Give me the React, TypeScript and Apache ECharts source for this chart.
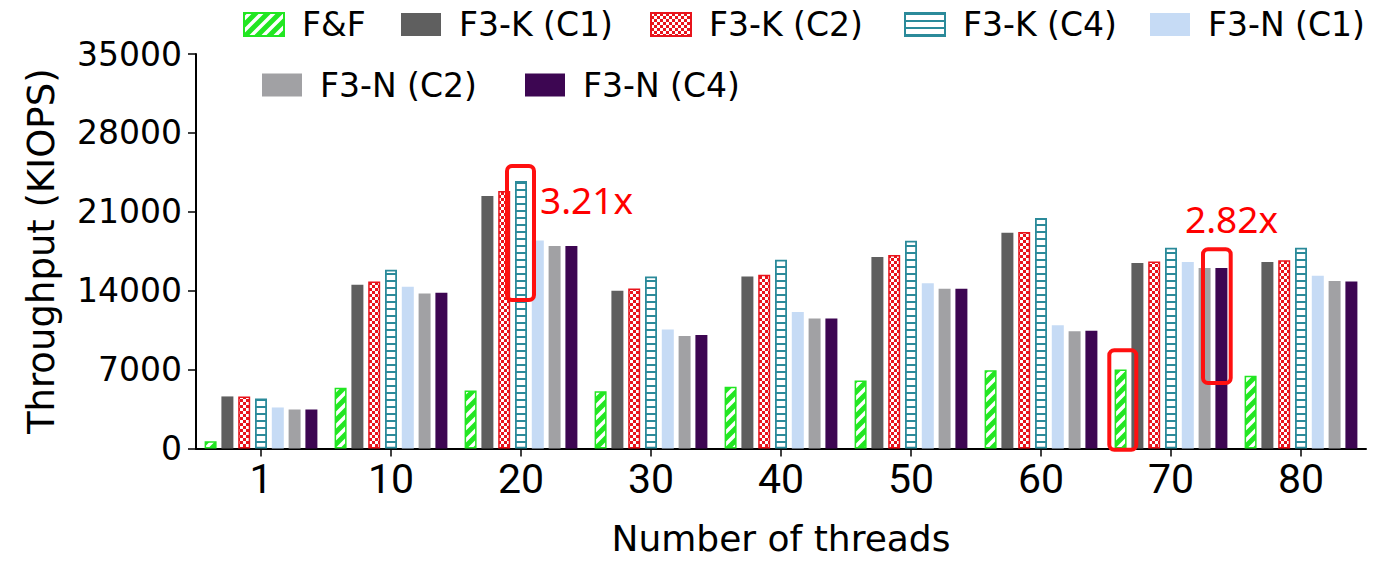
import React, { useEffect, useRef } from "react";
import * as echarts from "echarts";

// ---- data ----
const categories = ["1", "10", "20", "30", "40", "50", "60", "70", "80"];
const seriesNames = ["F&F", "F3-K (C1)", "F3-K (C2)", "F3-K (C4)", "F3-N (C1)", "F3-N (C2)", "F3-N (C4)"];
const ffValues = [650, 5390, 5150, 5090, 5480, 6040, 6950, 7010, 6450];
const k1Values = [4620, 14530, 22400, 14000, 15270, 16980, 19150, 16450, 16540];
const k2Values = [4620, 14820, 22840, 14200, 15410, 17160, 19200, 16600, 16710];
const k4Values = [4440, 15860, 23730, 15270, 16750, 18430, 20440, 17810, 17810];
const n1Values = [3640, 14350, 18460, 10560, 12100, 14670, 10940, 16540, 15330];
const n2Values = [3460, 13760, 17960, 9970, 11540, 14170, 10410, 16010, 14850];
const n4Values = [3460, 13820, 17960, 10060, 11540, 14170, 10440, 16010, 14820];
const yTicks = [0, 7000, 14000, 21000, 28000, 35000];
const annotations = ["3.21x", "2.82x"];

const GREEN = "#22e622";
const RED = "#e8141c";
const TEAL = "#2b8a9a";

function makeTile(w: number, h: number, draw: (ctx: CanvasRenderingContext2D) => void) {
  const c = document.createElement("canvas");
  c.width = w;
  c.height = h;
  const ctx = c.getContext("2d")!;
  draw(ctx);
  return { image: c.toDataURL(), repeat: "repeat", imageWidth: w, imageHeight: h } as any;
}

function buildOption() {
  const stripes = makeTile(12, 12, (ctx) => {
    ctx.fillStyle = "#fff";
    ctx.fillRect(0, 0, 12, 12);
    ctx.strokeStyle = GREEN;
    ctx.lineWidth = 5;
    ctx.beginPath();
    for (const o of [-12, 0, 12]) {
      ctx.moveTo(o - 2, 14);
      ctx.lineTo(o + 14, -2);
    }
    ctx.stroke();
  });
  const checker = makeTile(6, 6, (ctx) => {
    ctx.fillStyle = RED;
    ctx.fillRect(0, 0, 6, 6);
    ctx.fillStyle = "#fff";
    ctx.fillRect(0, 0, 3, 3);
    ctx.fillRect(3, 3, 3, 3);
  });
  const ladder = makeTile(12, 7, (ctx) => {
    ctx.fillStyle = "#fff";
    ctx.fillRect(0, 0, 12, 7);
    ctx.fillStyle = TEAL;
    ctx.fillRect(0, 0, 12, 2);
  });

  const values = [ffValues, k1Values, k2Values, k4Values, n1Values, n2Values, n4Values];
  const styles: any[] = [
    { color: stripes, borderColor: GREEN, borderWidth: 1.5 },
    { color: "#5f5f5f" },
    { color: checker, borderColor: RED, borderWidth: 1.5 },
    { color: ladder, borderColor: TEAL, borderWidth: 1.8 },
    { color: "#c6dbf5" },
    { color: "#a1a1a4" },
    { color: "#3d0652" },
  ];

  const legendLeft = [243, 401, 650, 904, 1150, 262, 525];
  const legendTop = [8, 8, 8, 8, 8, 68.5, 68.5];

  const series = seriesNames.map((name, i) => ({
    name,
    type: "bar",
    data: values[i],
    barWidth: 12,
    barGap: "40%",
    itemStyle: styles[i],
    emphasis: { disabled: true },
  }));

  const legend = seriesNames.map((name, i) => ({
    data: [name],
    left: legendLeft[i],
    top: legendTop[i],
    padding: 0,
    itemWidth: 40,
    itemHeight: 23,
    icon: "rect",
    selectedMode: false,
    textStyle: {
      fontFamily: "DejaVu Sans",
      fontSize: 33,
      color: "#000",
      padding: [0, 0, 0, 13],
    },
  }));

  const boxStyle = { fill: "none", stroke: "#ff1010", lineWidth: 4 };
  const textFont = { fontFamily: "Noto Sans", fontSize: 37, fill: "#ff0000", verticalAlign: "middle" };

  return {
    animation: false,
    backgroundColor: "#ffffff",
    legend,
    grid: { left: 196, right: 13, top: 54, bottom: 114.5, containLabel: false },
    xAxis: {
      type: "category",
      data: categories,
      name: "Number of threads",
      nameLocation: "middle",
      nameGap: 72,
      nameTextStyle: { fontFamily: "DejaVu Sans", fontSize: 36, color: "#000" },
      axisLine: { show: true, lineStyle: { color: "#000", width: 2 } },
      axisTick: { show: true, alignWithLabel: true, length: 8, lineStyle: { color: "#000", width: 1.5 } },
      axisLabel: { fontFamily: "Roboto", fontSize: 41, color: "#000", margin: 10 },
      splitLine: { show: false },
    },
    yAxis: {
      type: "value",
      min: yTicks[0],
      max: yTicks[yTicks.length - 1],
      interval: yTicks[1] - yTicks[0],
      name: "Throughput (KIOPS)",
      nameLocation: "middle",
      nameGap: 136,
      nameTextStyle: { fontFamily: "DejaVu Sans", fontSize: 37, color: "#000" },
      axisLine: { show: true, lineStyle: { color: "#000", width: 2 } },
      axisTick: { show: true, length: 8, lineStyle: { color: "#000", width: 1.5 } },
      axisLabel: {
        fontFamily: "DejaVu Sans",
        fontSize: 33,
        color: "#000",
        margin: 14,
        formatter: (v: number) => String(v),
      },
      splitLine: { show: false },
    },
    series,
    graphic: [
      { type: "rect", z: 100, shape: { x: 507, y: 166, width: 27, height: 134, r: 5 }, style: boxStyle },
      { type: "rect", z: 100, shape: { x: 1109.3, y: 350.3, width: 27, height: 99.4, r: 5 }, style: boxStyle },
      { type: "rect", z: 100, shape: { x: 1203, y: 249.3, width: 27.7, height: 133.7, r: 5 }, style: boxStyle },
      { type: "text", z: 100, x: 540, y: 199.5, style: { text: annotations[0], ...textFont } },
      { type: "text", z: 100, x: 1185, y: 218, style: { text: annotations[1], ...textFont } },
    ],
  };
}

export default function App() {
  const ref = useRef<HTMLDivElement>(null);
  useEffect(() => {
    const chart = echarts.init(ref.current!, null, { renderer: "svg" });
    chart.setOption(buildOption() as any);
    return () => chart.dispose();
  }, []);
  return (
    <div
      ref={ref}
      style={{ position: "fixed", left: 0, top: 0, width: 1379, height: 563, background: "#fff" }}
    />
  );
}
